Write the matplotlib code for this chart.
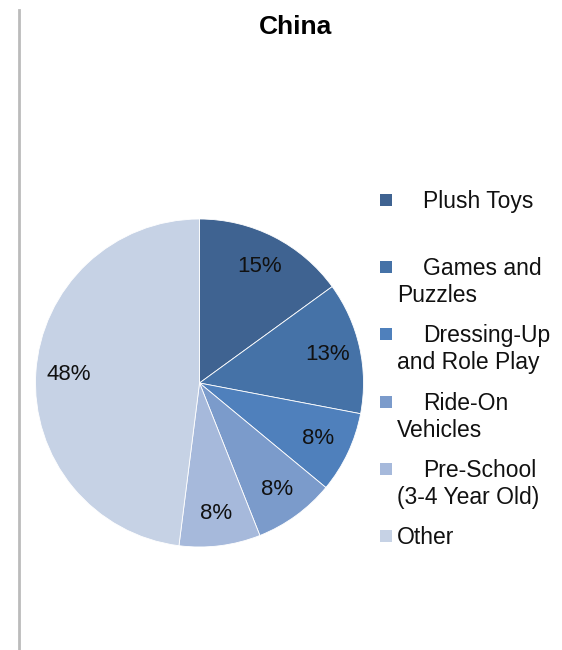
import matplotlib as mpl
import matplotlib.pyplot as plt
from matplotlib.patches import Rectangle
from matplotlib.lines import Line2D

mpl.use('Agg')

plt.rcParams['font.family'] = ['Liberation Sans', 'DejaVu Sans']

# toy market share, China
categorias = ["Plush Toys", "Games and\nPuzzles", "Dressing-Up\nand Role Play",
              "Ride-On\nVehicles", "Pre-School\n(3-4 Year Old)", "Other"]
valores = [15, 13, 8, 8, 8, 48]
cores = ["#3F6391", "#4572A7", "#4F80BC", "#7B9BCB", "#A6B9DB", "#C6D2E5"]

W, H = 562, 650
fig = plt.figure(figsize=(W / 100, H / 100), dpi=100)

# pie area in pixel terms: centre (199, 383), radius 164
cx, cy, r = 199.5, 383, 164
ax = fig.add_axes([(cx - r) / W, (H - cy - r) / H, 2 * r / W, 2 * r / H])
ax.pie(valores, colors=cores, startangle=90, counterclock=False,
       autopct=lambda p: "{:.0f}%".format(p), pctdistance=0.8,
       wedgeprops=dict(edgecolor="white", linewidth=0.6),
       textprops=dict(fontsize=16, color="#111111"))
ax.set_xlim(-1, 1)
ax.set_ylim(-1, 1)
ax.set_aspect('equal')

fig.text(295 / W, 1 - 27 / H, "China", ha='center', va='center',
         fontsize=19, fontweight='bold')

# legend drawn by hand: square marker then wrapped label, one line at a time
y0 = 200
passo = 67.2
entrelinha = 27
for i, (nome, cor) in enumerate(zip(categorias, cores)):
    y = y0 + i * passo
    fig.patches.append(Rectangle((380 / W, 1 - (y + 6) / H), 12 / W, 12 / H,
                                 transform=fig.transFigure, facecolor=cor,
                                 edgecolor='none'))
    for k, linha in enumerate(nome.split("\n")):
        x = 423 if (k == 0 and nome != "Other") else 397
        fig.text(x / W, 1 - (y + 8 + k * entrelinha) / H, linha, ha='left',
                 va='baseline', fontsize=16.5, color="#111111")

# thin grey rule down the left edge
fig.add_artist(Line2D([18.5 / W, 18.5 / W], [0, 1 - 10 / H],
                      transform=fig.transFigure, color="#BBBBBB", linewidth=2))

plt.savefig("out.png", dpi=100)
